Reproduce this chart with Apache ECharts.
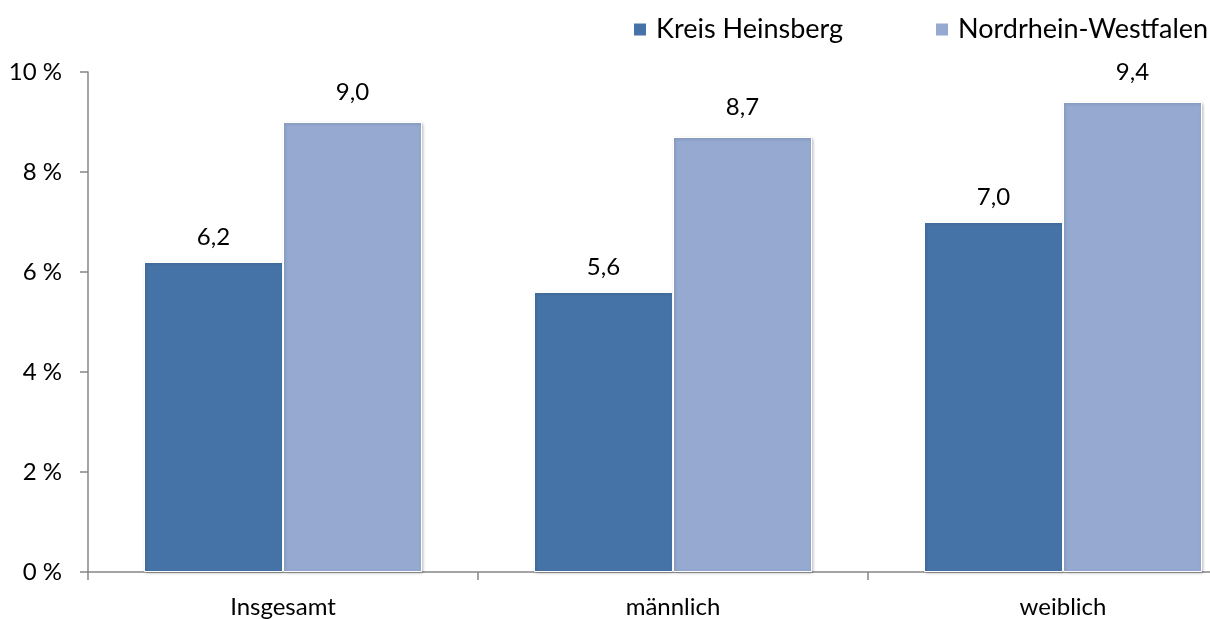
<!DOCTYPE html>
<html><head><meta charset="utf-8">
<script src="https://cdn.jsdelivr.net/npm/echarts@6/dist/echarts.min.js"></script>
<style>html,body{margin:0;padding:0;background:#fff}#c{width:1210px;height:619px}</style>
</head><body><div id="c"></div>
<script>
var categories = ['Insgesamt', 'männlich', 'weiblich'];
var seriesNames = ['Kreis Heinsberg', 'Nordrhein-Westfalen'];
var heinsberg = [6.2, 5.6, 7.0];
var nrw = [9.0, 8.7, 9.4];
var yTicks = [0, 2, 4, 6, 8, 10];

var FONT = 'Lato, "Noto Sans", sans-serif';
var chart = echarts.init(document.getElementById('c'));
function lbl(v){ return v.value.toFixed(1).replace('.', ','); }
var barStyle = function(color){ return {
  color: color, borderColor: '#fff', borderWidth: 1,
  shadowColor: 'rgba(0,0,0,0.25)', shadowBlur: 3, shadowOffsetX: 1, shadowOffsetY: 1
};};
function legendFor(name, left){
  return {
    left: left, top: 11, itemWidth: 14, itemHeight: 14, icon: 'rect',
    textStyle: { fontSize: 27, color: '#000', fontFamily: FONT, padding: [0, 0, 0, 4] },
    data: [name]
  };
}
chart.setOption({
  animation: false,
  textStyle: { fontFamily: FONT },
  legend: [legendFor(seriesNames[0], 627), legendFor(seriesNames[1], 929)],
  grid: { left: 88, top: 72, width: 1170, height: 500, outerBoundsMode: 'none', containLabel: false },
  xAxis: {
    type: 'category', data: categories,
    axisLine: { lineStyle: { color: '#868686', width: 1.5 } },
    axisTick: { show: true, length: 8, lineStyle: { color: '#868686', width: 1.5 } },
    axisLabel: { color: '#000', fontSize: 24, margin: 23, fontFamily: FONT }
  },
  yAxis: {
    type: 'value', min: yTicks[0], max: yTicks[yTicks.length-1], interval: 2,
    splitLine: { show: false },
    axisLine: { show: true, lineStyle: { color: '#868686', width: 1.5 } },
    axisTick: { show: true, length: 8, lineStyle: { color: '#868686', width: 1.5 } },
    axisLabel: { color: '#000', fontSize: 24, margin: 26, fontFamily: FONT,
      formatter: function(v){ return v + ' %'; } }
  },
  series: [
    { name: seriesNames[0], type: 'bar', data: heinsberg, barWidth: 139, barGap: '0%',
      itemStyle: barStyle('#4673A7'),
      label: { show: true, position: 'top', distance: 13, color: '#000', fontSize: 24, fontFamily: FONT, formatter: lbl } },
    { name: seriesNames[1], type: 'bar', data: nrw, barWidth: 139, barGap: '0%',
      itemStyle: barStyle('#95A9D1'),
      label: { show: true, position: 'top', distance: 18, color: '#000', fontSize: 24, fontFamily: FONT, formatter: lbl } }
  ]
});
</script></body></html>
